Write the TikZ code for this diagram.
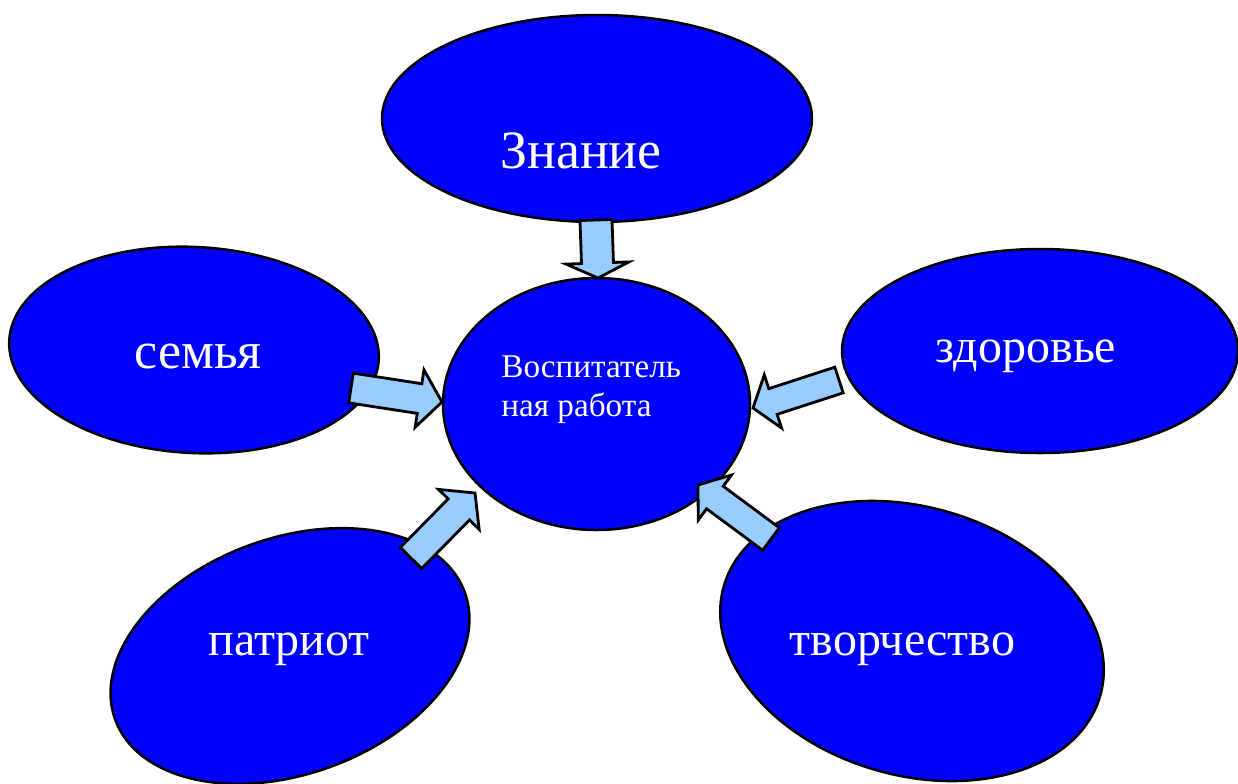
\documentclass[tikz,border=0pt]{standalone}
\usepackage{fontspec}
\setmainfont{Liberation Serif}
\usetikzlibrary{shapes.geometric,calc}
\definecolor{bubblue}{HTML}{0000FF}
\definecolor{arrblue}{HTML}{99CCFF}
\tikzset{
  bubble/.style={ellipse, draw=black, line width=1.25pt, fill=bubblue, inner sep=0pt},
  bubtext/.style={text=white, anchor=base, inner sep=0pt, font=\fontsize{24}{28}\selectfont},
  blockarr/.style={draw=black, line width=1.4pt, fill=arrblue, line join=miter},
}
\newcommand{\barrow}[5]{%
  \path ($(#2)!#5!(#1)$) coordinate (ba);
  \draw[blockarr] ($(#1)!#3!90:(#2)$) -- ($(ba)!#3!90:(#2)$) -- ($(ba)!#4!90:(#2)$) -- (#2)
    -- ($(ba)!#4!-90:(#2)$) -- ($(ba)!#3!-90:(#2)$) -- ($(#1)!#3!-90:(#2)$) -- cycle;}
\begin{document}
\begin{tikzpicture}[x=0.5pt,y=-0.5pt]
\useasboundingbox (0,0) rectangle (1238,783);
\clip (0,0) rectangle (1238,783);
\fill[white] (0,0) rectangle (1238,783);
% bubbles
\node[bubble, minimum width=215pt, minimum height=103.5pt] (zn) at (597,118.5) {};
\node[bubble, minimum width=185pt, minimum height=103pt, rotate=-3] (sem) at (194,350) {};
\node[bubble, minimum width=198pt, minimum height=102pt] (zd) at (1040,351) {};
\node[bubble, minimum width=186pt, minimum height=118pt, rotate=20] (pat) at (290,656) {};
\node[bubble, minimum width=196pt, minimum height=134pt, rotate=-16.5] (tv) at (912,641) {};
\node[bubble, minimum width=153.5pt, minimum height=126pt] (vr) at (596.5,404) {};
% texts
\node[bubtext, font=\fontsize{27}{30}\selectfont] (tzn) at (581,168) {Знание};
\node[bubtext, font=\fontsize{26}{30}\selectfont] (tsem) at (198,368) {семья};
\node[bubtext] (tzd) at (1026,362) {здоровье};
\node[bubtext] (tpat) at (289,655) {патриот};
\node[bubtext] (ttv) at (902.5,655) {творчество};
\node[text=white, anchor=base west, inner sep=0pt, align=left,
      font=\fontsize{16.6}{19.5}\selectfont] (tvr) at (501,416) {Воспитатель\\ная работа};
% arrow end points
\coordinate (a1t) at (596,220); \coordinate (a1h) at (598,278);
\coordinate (a2t) at (351,388); \coordinate (a2h) at (442,402);
\coordinate (a3t) at (839,380); \coordinate (a3h) at (753,408);
\coordinate (a4t) at (411,558); \coordinate (a4h) at (475,493);
\coordinate (a5t) at (771,539); \coordinate (a5h) at (698,485);
\barrow{a1t}{a1h}{8pt}{15.75pt}{7.5pt}
\barrow{a2t}{a2h}{7.5pt}{14.5pt}{11.35pt}
\barrow{a3t}{a3h}{6.75pt}{14pt}{10.5pt}
\barrow{a4t}{a4h}{7.5pt}{14.25pt}{11.5pt}
\barrow{a5t}{a5h}{7pt}{14pt}{10.5pt}
\end{tikzpicture}
\end{document}
